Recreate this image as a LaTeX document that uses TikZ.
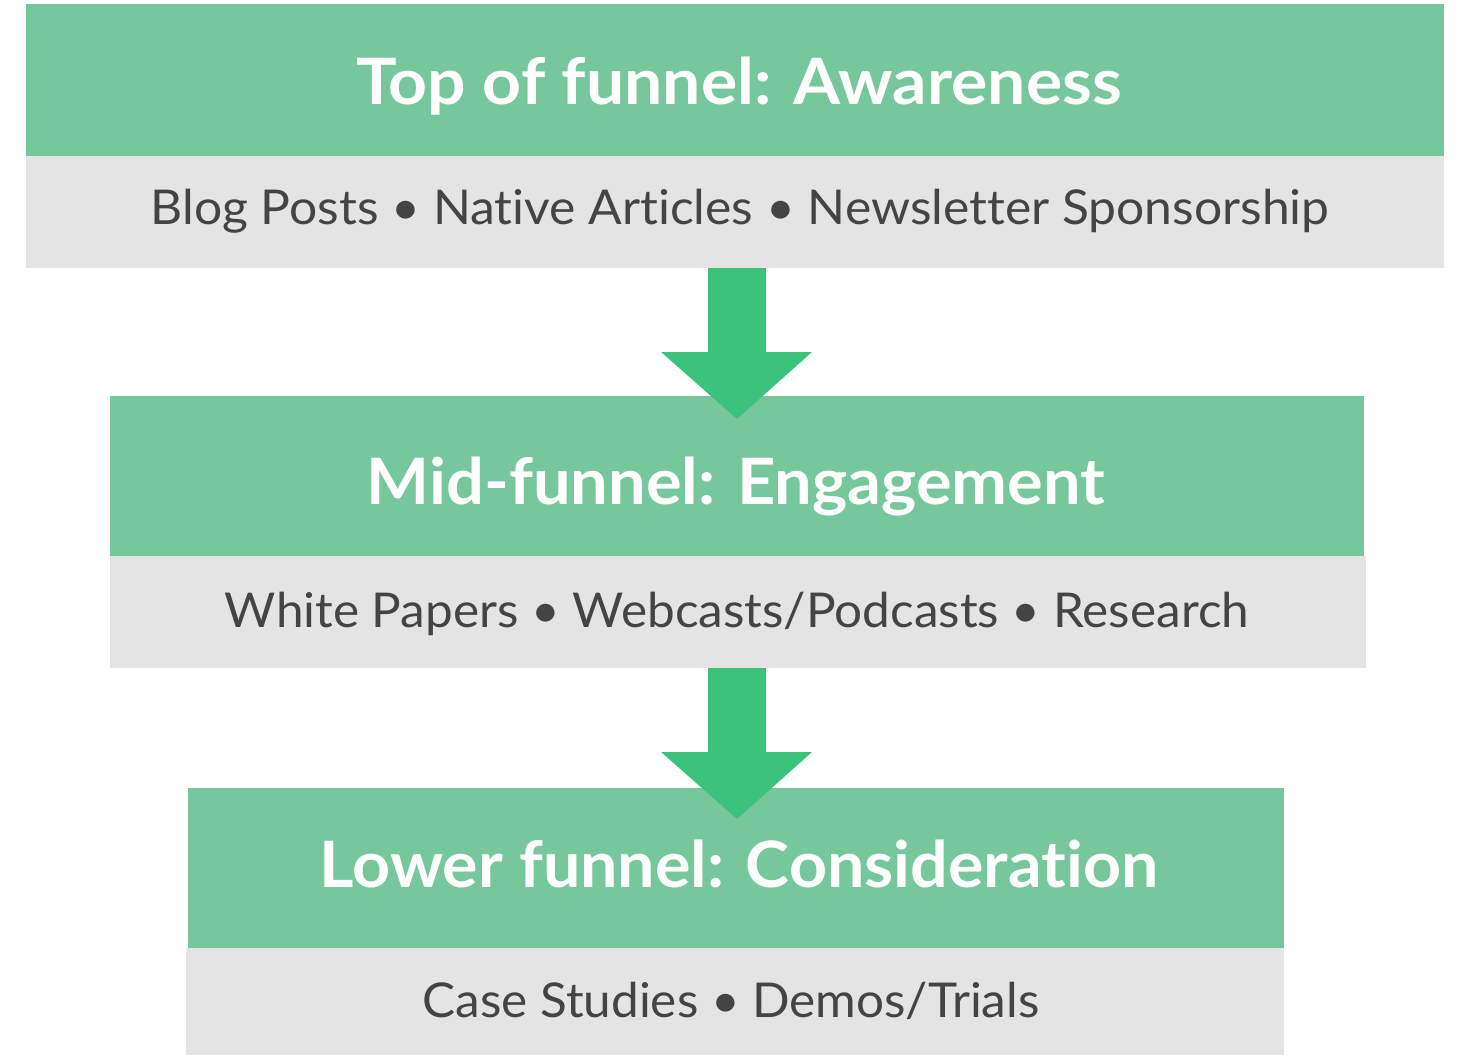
\documentclass[tikz,border=0pt]{standalone}
\usepackage{fontspec}
\setmainfont[Ligatures={NoCommon}]{Lato}
\definecolor{boxgreen}{HTML}{76C89C}
\definecolor{arrowgreen}{HTML}{3CC27A}
\definecolor{boxgray}{HTML}{E4E4E4}
\definecolor{textgray}{HTML}{444444}
\begin{document}
\begin{tikzpicture}[x=1pt,y=-1pt,
  greenbox/.style={fill=boxgreen, draw=none},
  graybox/.style={fill=boxgray, draw=none},
  titletext/.style={anchor=base, inner sep=0pt, text=white, font=\fontsize{64}{70}\selectfont\bfseries},
  bodytext/.style={anchor=base, inner sep=0pt, text=textgray, font=\fontsize{48}{54}\selectfont},
  bigarrow/.style={fill=arrowgreen, draw=none}]
\useasboundingbox (0,0) rectangle (1461,1055);
% stage 1
\path[greenbox] (26,4) rectangle (1444,156);
\path[graybox] (26,156) rectangle (1444,268);
\node[titletext, xscale=1.06] (t1) at (739,104) {Top of funnel: Awareness};
\node[bodytext, xscale=1.037] (b1) at (740,224) {Blog Posts • Native Articles • Newsletter Sponsorship};
% stage 2
\path[greenbox] (110,396) rectangle (1364,556);
\path[graybox] (110,556) rectangle (1366,668);
\node[titletext, xscale=1.043] (t2) at (736,504) {Mid-funnel: Engagement};
\node[bodytext, xscale=1.031] (b2) at (737,627) {White Papers • Webcasts/Podcasts • Research};
% stage 3
\path[greenbox] (188,788) rectangle (1284,948);
\path[graybox] (186,948) rectangle (1284,1055);
\node[titletext, xscale=1.037] (t3) at (739,887) {Lower funnel: Consideration};
\node[bodytext, xscale=1.03] (b3) at (731,1017) {Case Studies • Demos/Trials};
% arrows
\coordinate (a1) at (737,268);
\coordinate (a2) at (737,668);
\foreach \a in {a1,a2}{
  \fill[bigarrow] (\a) ++(-29,0) -- ++(58,0) -- ++(0,84) -- ++(46,0)
    -- ++(-75,67) -- ++(-76,-67) -- ++(47,0) -- cycle;
}
\end{tikzpicture}
\end{document}
